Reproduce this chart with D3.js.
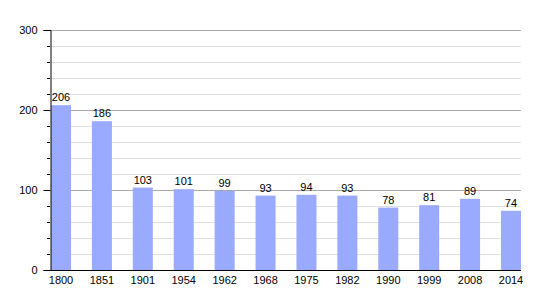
<!DOCTYPE html>
<html>
<head>
<meta charset="utf-8">
<script src="https://cdn.jsdelivr.net/npm/d3@7"></script>
<style>
  body { margin: 0; background: #fff; }
  svg text { font-family: "Liberation Sans", Arial, sans-serif; font-size: 11px; fill: #000; }
</style>
</head>
<body>
<div id="chart"></div>
<script>
var years = ["1800", "1851", "1901", "1954", "1962", "1968", "1975", "1982", "1990", "1999", "2008", "2014"];
var population = [206, 186, 103, 101, 99, 93, 94, 93, 78, 81, 89, 74];
var majorTicks = [0, 100, 200, 300];
var minorTicks = [20, 40, 60, 80, 120, 140, 160, 180, 220, 240, 260, 280];

var width = 550, height = 300;
var plotLeft = 50, plotRight = 521, plotTop = 30, plotBottom = 270;

var svg = d3.select("#chart").append("svg")
    .attr("width", width)
    .attr("height", height);

var x = d3.scaleBand()
    .domain(years)
    .range([plotLeft + 1, plotRight])
    .paddingInner(0.511)
    .paddingOuter(0);

var y = d3.scaleLinear()
    .domain([0, 300])
    .range([plotBottom, plotTop]);

// grid lines
svg.append("g").selectAll("line")
    .data(minorTicks)
    .enter().append("line")
    .attr("x1", plotLeft + 1).attr("x2", plotRight)
    .attr("y1", function(d) { return Math.round(y(d)) + 0.5; })
    .attr("y2", function(d) { return Math.round(y(d)) + 0.5; })
    .attr("stroke", "#e0e0e0");

svg.append("g").selectAll("line")
    .data(majorTicks.filter(function(d) { return d > 0; }))
    .enter().append("line")
    .attr("x1", plotLeft + 1).attr("x2", plotRight)
    .attr("y1", function(d) { return Math.round(y(d)) + 0.5; })
    .attr("y2", function(d) { return Math.round(y(d)) + 0.5; })
    .attr("stroke", "#aaaaaa");

// bars
svg.append("g").selectAll("rect")
    .data(population)
    .enter().append("rect")
    .attr("x", function(d, i) { return x(years[i]); })
    .attr("width", x.bandwidth())
    .attr("y", function(d) { return y(d); })
    .attr("height", function(d) { return y(0) - y(d); })
    .attr("fill", "#99aaff");

// value labels
svg.append("g").selectAll("text")
    .data(population)
    .enter().append("text")
    .attr("x", function(d, i) { return x(years[i]) + x.bandwidth() / 2; })
    .attr("y", function(d) { return y(d) - 4; })
    .attr("text-anchor", "middle")
    .text(function(d) { return d; });

// y axis
var yAxis = svg.append("g")
    .attr("transform", "translate(" + (plotLeft + 0.5) + ",0)")
    .call(d3.axisLeft(y).tickValues(majorTicks).tickSize(7).tickPadding(6));
yAxis.select(".domain").attr("stroke", "#000");
yAxis.selectAll(".tick line").attr("stroke", "#000");
yAxis.selectAll(".tick text").style("font-size", "11px").style("font-family", null);

svg.append("g").selectAll("line")
    .data(minorTicks)
    .enter().append("line")
    .attr("x1", plotLeft - 3).attr("x2", plotLeft)
    .attr("y1", function(d) { return Math.round(y(d)) + 0.5; })
    .attr("y2", function(d) { return Math.round(y(d)) + 0.5; })
    .attr("stroke", "#000");

// x axis
var xAxis = svg.append("g")
    .attr("transform", "translate(0," + (plotBottom + 0.5) + ")")
    .call(d3.axisBottom(x).tickSize(0).tickPadding(6));
xAxis.select(".domain").attr("d", "M" + plotLeft + ",0H" + plotRight).attr("stroke", "#000");
xAxis.selectAll(".tick text").style("font-size", "11px");
svg.selectAll(".tick text").attr("font-family", null);
</script>
</body>
</html>
